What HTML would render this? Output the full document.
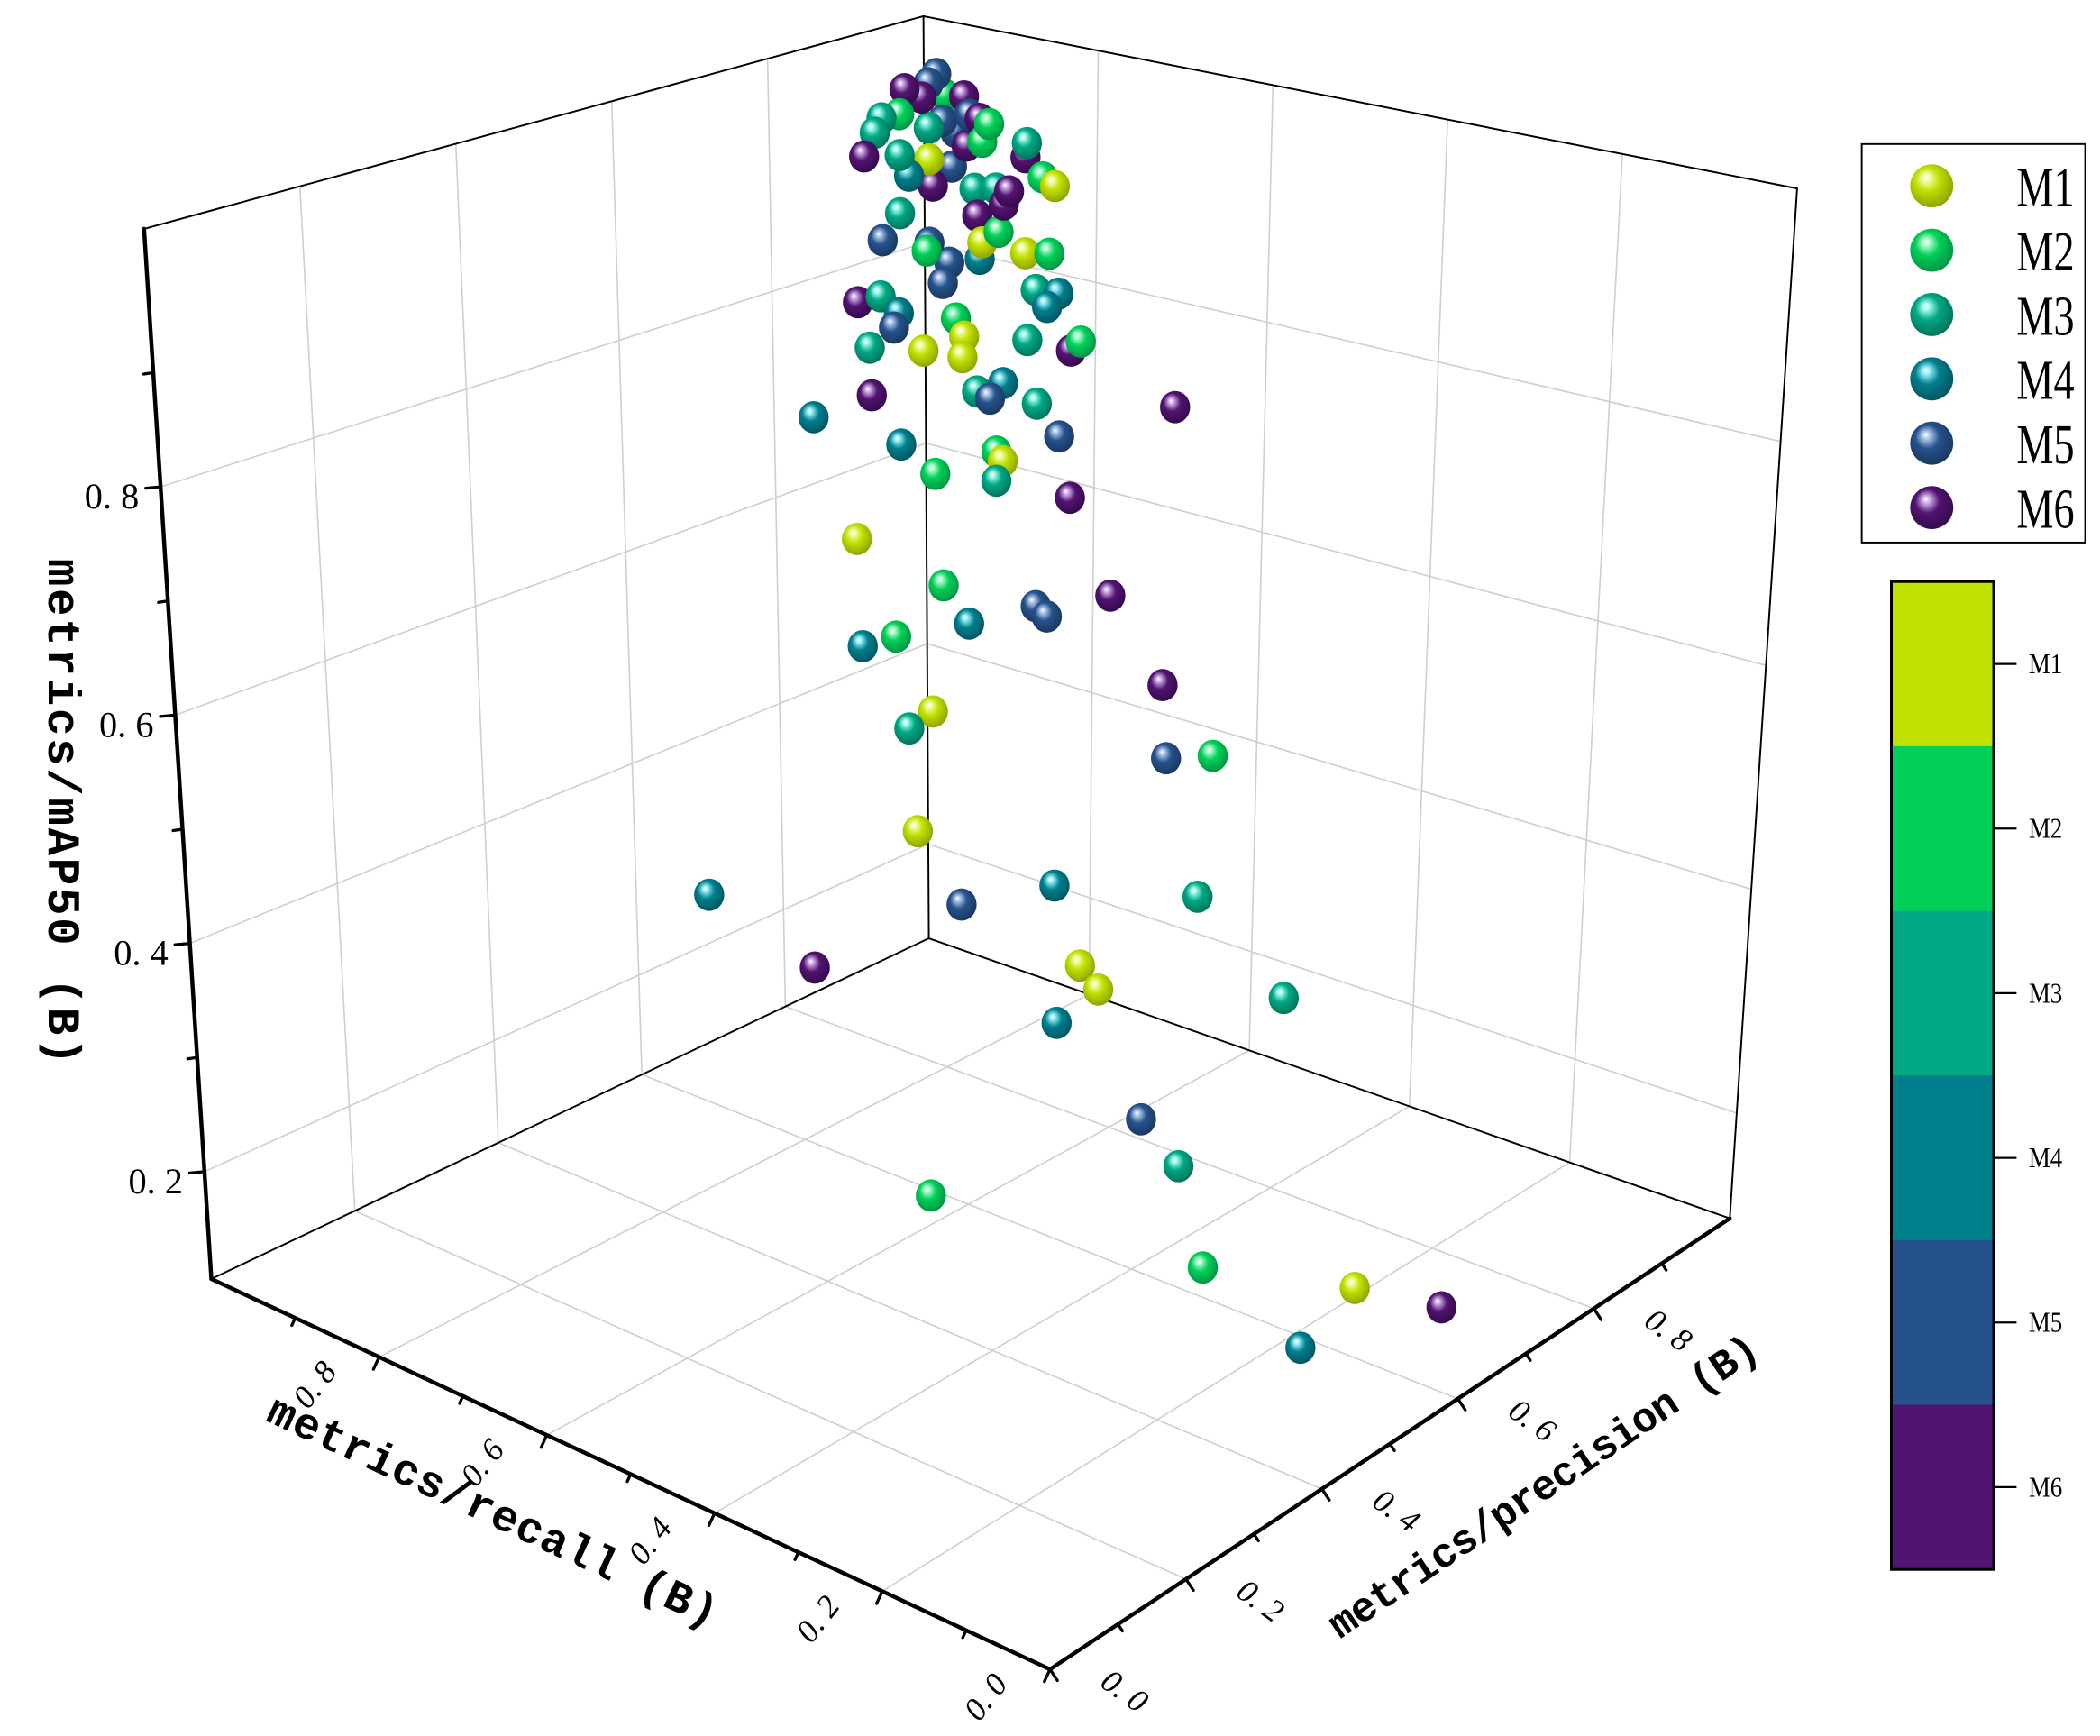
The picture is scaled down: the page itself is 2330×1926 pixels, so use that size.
<!DOCTYPE html>
<html><head><meta charset="utf-8"><style>
html,body{margin:0;padding:0;background:#fff;}
svg{display:block;}
</style></head><body>
<svg id="chart" xmlns="http://www.w3.org/2000/svg" width="2330" height="1926" viewBox="0 0 1560 1289.5">
<defs id="defs"></defs>
<rect x="0" y="0" width="1560" height="1289.5" fill="#fff"/>
<g id="grid"></g>
<g id="frame"></g>
<g id="points"></g>
<g id="axes"></g>
<g id="legend"></g>
<g id="colorbar"></g>
</svg>
<script>
const seriesNames = ['M1','M2','M3','M4','M5','M6'];
const precision = [0.96,0.95,0.919,0.941,0.971,0.98,0.98,0.98,0.889,0.912,0.88,0.9675,0.98,0.98,0.95,0.98,0.98,0.98,0.98,0.866,0.912,0.95,0.98,0.924,0.955,0.98,0.98,0.98,0.98,0.98,0.98,0.98,0.912,0.98,0.889,0.95,0.9465,0.98,0.98,0.976,0.9675,0.98,0.98,0.98,
0.64,0.654,0.665,0.662,0.70,0.705,0.68,0.704,0.749,0.763,0.756,0.647,0.744,0.771,0.777,0.713,0.729,0.721,0.648,0.612,0.836,0.750,0.764,0.666,0.687,0.725,0.729,0.725,0.771,0.638,0.692,0.708,0.750,0.757,0.797,0.662,0.641,0.831,0.685,0.67,0.834,0.864,0.675,0.541,0.703,0.763,0.856,0.608,0.78,0.792,0.914,0.765,0.67,0.706,0.43,0.62,0.676,0.662,0.56];
const recall = [0.95,0.95,0.95,0.95,0.95,0.936,0.943,0.93,0.95,0.95,0.95,0.95,0.907,0.918,0.95,0.946,0.915,0.933,0.8635,0.95,0.95,0.95,0.95,0.95,0.95,0.924,0.899,0.884,0.865,0.845,0.831,0.89,0.95,0.921,0.95,0.95,0.95,0.896,0.915,0.95,0.95,0.918,0.865,0.837,
0.76,0.746,0.735,0.738,0.70,0.695,0.72,0.696,0.651,0.637,0.644,0.753,0.656,0.629,0.623,0.687,0.671,0.679,0.752,0.788,0.564,0.650,0.636,0.734,0.713,0.675,0.671,0.675,0.629,0.762,0.708,0.692,0.650,0.643,0.603,0.738,0.759,0.569,0.715,0.73,0.566,0.536,0.725,0.859,0.697,0.637,0.544,0.792,0.62,0.608,0.486,0.635,0.45,0.434,0.50,0.33,0.191,0.074,0.16];
const mAP50 = [0.986,0.979,0.980,0.967,0.963,0.962,0.950,0.945,0.958,0.957,0.946,0.938,0.940,0.943,0.935,0.925,0.921,0.914,0.929,0.926,0.917,0.904,0.890,0.894,0.877,0.873,0.878,0.878,0.915,0.899,0.893,0.864,0.860,0.847,0.839,0.822,0.815,0.836,0.822,0.796,0.778,0.805,0.821,0.826,
0.876,0.881,0.865,0.852,0.859,0.842,0.830,0.823,0.883,0.879,0.867,0.834,0.837,0.826,0.834,0.791,0.798,0.784,0.790,0.771,0.770,0.778,0.747,0.744,0.716,0.735,0.726,0.708,0.690,0.658,0.613,0.577,0.591,0.581,0.598,0.567,0.559,0.513,0.497,0.482,0.445,0.445,0.387,0.333,0.318,0.332,0.315,0.264,0.257,0.234,0.216,0.205,0.20,0.15,0.20,0.12,0.12,0.14,0.12];
const modelIndex = [4,4,5,5,1,5,2,4,2,1,2,4,1,5,2,4,1,5,2,5,2,0,4,3,5,2,2,5,5,1,0,5,2,5,4,4,1,1,0,4,4,3,0,1,
5,2,3,4,1,0,0,0,2,3,3,2,2,5,1,2,3,4,5,3,5,2,4,3,1,1,0,2,5,0,1,3,4,4,5,1,3,5,0,2,4,1,0,3,4,3,2,5,0,0,2,3,4,2,1,1,0,5,3];
const tickValues = [0.2,0.4,0.6,0.8];
const tickLabels = ['0.2','0.4','0.6','0.8'];
const zMin = 0.106, zMax = 1.026;

const colors = ['#c0e000','#00d058','#00a884','#007f8c','#26528c','#521470'];
const light = ['#f4ffb0','#b8ffd4','#a8fff0','#a0f4ff','#b8cff0','#d8b8f0'];
const dark = ['#8a9e00','#009040','#007058','#005260','#18365c','#32084a'];

const SVGNS='http://www.w3.org/2000/svg';
function mk(tag, attrs, parent){const e=document.createElementNS(SVGNS,tag);for(const k in attrs)e.setAttribute(k,attrs[k]);if(parent)parent.appendChild(e);return e;}

const CB={O:[780,1240],P:[1285,905],R:[157,950],B:[690,697]};
const CT={O:[788,345],P:[1335,140],R:[107,170],B:[686,12]};
function bil(C,p,r,i){return C.O[i]*(1-p)*(1-r)+C.P[i]*p*(1-r)+C.R[i]*(1-p)*r+C.B[i]*p*r;}
function proj(p,r,n){return [bil(CB,p,r,0)*(1-n)+bil(CT,p,r,0)*n, bil(CB,p,r,1)*(1-n)+bil(CT,p,r,1)*n];}
function zn(m){return (m-zMin)/(zMax-zMin);}
function P3(p,r,m){return proj(p,r,zn(m));}

const defs=document.getElementById('defs');
for(let i=0;i<6;i++){
  const g=mk('radialGradient',{id:'sph'+i,cx:'0.45',cy:'0.42',r:'0.62',fx:'0.36',fy:'0.3'},defs);
  mk('stop',{offset:'0','stop-color':'#ffffff'},g);
  mk('stop',{offset:'0.12','stop-color':light[i]},g);
  mk('stop',{offset:'0.45','stop-color':colors[i]},g);
  mk('stop',{offset:'1','stop-color':dark[i]},g);
}

const grid=document.getElementById('grid');
function gl(a,b,name){const l=mk('line',{x1:a[0],y1:a[1],x2:b[0],y2:b[1],stroke:'#cfcfcf','stroke-width':1.1},grid);

}
for(const t of tickValues){
  gl(proj(t,0,0),proj(t,1,0),'floor-grid-precision');
  gl(proj(0,t,0),proj(1,t,0),'floor-grid-recall');
  gl(proj(t,1,0),proj(t,1,1),'left-wall-grid-vertical');
  gl(P3(0,1,t),P3(1,1,t),'left-wall-grid-horizontal');
  gl(proj(1,t,0),proj(1,t,1),'right-wall-grid-vertical');
  gl(P3(1,0,t),P3(1,1,t),'right-wall-grid-horizontal');
}
const frame=document.getElementById('frame');
function fl(a,b,w,name,par){const l=mk('line',{x1:a[0],y1:a[1],x2:b[0],y2:b[1],stroke:'#000','stroke-width':w,'stroke-linecap':'round'},par);

}
fl(proj(0,1,0),proj(1,1,0),1.3,'floor-back-left-edge',frame);
fl(proj(1,1,0),proj(1,0,0),1.3,'floor-back-right-edge',frame);
fl(proj(1,1,0),proj(1,1,1),1.3,'back-vertical-edge',frame);
fl(proj(1,0,0),proj(1,0,1),1.3,'right-vertical-edge',frame);
fl(proj(0,1,1),proj(1,1,1),1.3,'top-left-edge',frame);
fl(proj(1,1,1),proj(1,0,1),1.3,'top-right-edge',frame);

const pts=document.getElementById('points');
const order=precision.map((v,i)=>i).sort((a,b)=>(precision[b]+recall[b])-(precision[a]+recall[a]));
for(const i of order){
  const s=P3(precision[i],recall[i],mAP50[i]);
  const c=mk('ellipse',{cx:s[0].toFixed(1),cy:s[1].toFixed(1),rx:11.2,ry:12,fill:'url(#sph'+modelIndex[i]+')'},pts);
  
  
}

const axes=document.getElementById('axes');
fl(proj(0,0,0),proj(1,0,0),3,'precision-axis-line',axes);
fl(proj(0,0,0),proj(0,1,0),3,'recall-axis-line',axes);
fl(proj(0,1,0),proj(0,1,1),3,'map50-axis-line',axes);
function txt(x,y,str,attrs,name){const t=mk('text',Object.assign({x:x,y:y},attrs),axes);t.textContent=str;

return t;}
const serif='"Liberation Serif", serif';
for(let k=0;k<=9;k++){
  const v=k/10, major=(k%2===0), L=major?10:6;
  let a=proj(0,v,0);
  fl(a,[a[0]-0.42*L,a[1]+0.91*L],2.2,'recall-tick',axes);
  a=proj(v,0,0);
  fl(a,[a[0]+0.55*L,a[1]+0.83*L],2.2,'precision-tick',axes);
  if(major && k<=8){
    const lab=v.toFixed(1).replace('.','. ');
    const ra=proj(0,v,0);
    txt(ra[0]-46,ra[1]+22,lab,{'font-family':serif,'font-style':'italic','font-size':24,'text-anchor':'middle','transform':'rotate(-52 '+(ra[0]-46)+' '+(ra[1]+22)+')','dominant-baseline':'middle'},'recall-tick-label');
    const pa=proj(v,0,0);
    txt(pa[0]+54,pa[1]+18,lab,{'font-family':serif,'font-style':'italic','font-size':24,'text-anchor':'middle','transform':'rotate(36 '+(pa[0]+54)+' '+(pa[1]+18)+')','dominant-baseline':'middle'},'precision-tick-label');
  }
}
for(let k=2;k<=9;k++){
  const v=k/10; const a=P3(0,1,v); const L=(k%2===0)?11:7;
  fl(a,[a[0]-L,a[1]+1],2.2,'map50-tick',axes);
}
tickValues.forEach((v,i)=>{const a=P3(0,1,v);
  txt(a[0]-16,a[1]+16,tickLabels[i].replace('.','. '),{'font-family':serif,'font-size':27,'text-anchor':'end'},'map50-tick-label');});
const mono='"Liberation Mono", monospace';
txt(0,0,'metrics/mAP50 (B)',{'font-family':mono,'font-weight':'bold','font-size':34,'text-anchor':'middle','textLength':376,'lengthAdjust':'spacing','transform':'translate(36,603) rotate(90)'},'map50-axis-title');
txt(0,0,'metrics/recall (B)',{'font-family':mono,'font-weight':'bold','font-size':33,'text-anchor':'middle','textLength':365,'lengthAdjust':'spacing','transform':'translate(362,1132) rotate(25)'},'recall-axis-title');
txt(0,0,'metrics/precision (B)',{'font-family':mono,'font-weight':'bold','font-size':31,'text-anchor':'middle','textLength':378,'lengthAdjust':'spacing','transform':'translate(1152,1112) rotate(-34)'},'precision-axis-title');

const lg=document.getElementById('legend');
const lb=mk('rect',{x:1383,y:107,width:166,height:296,fill:'#fff',stroke:'#000','stroke-width':1.3},lg);


seriesNames.forEach((nm,i)=>{
  const y=138+i*47.8;
  const c=mk('circle',{cx:1435,cy:y,r:16,fill:'url(#sph'+i+')'},lg);
  
  
  const t=mk('text',{x:1498,y:y+15,'font-family':serif,'font-size':42,'textLength':43,'lengthAdjust':'spacingAndGlyphs'},lg);
  t.textContent=nm;
  
  
});

const cb=document.getElementById('colorbar');
const cbTop=432, bandH=122.3, cbX=1405, cbW=76;
seriesNames.forEach((nm,i)=>{
  const r=mk('rect',{x:cbX,y:cbTop+i*bandH,width:cbW,height:bandH+0.5,fill:colors[i]},cb);
  
  
  const yc=cbTop+i*bandH+bandH*0.5;
  const tk=mk('line',{x1:cbX+cbW,y1:yc,x2:cbX+cbW+17,y2:yc,stroke:'#000','stroke-width':1.5},cb);
  
  
  const t=mk('text',{x:cbX+cbW+26,y:yc+7,'font-family':serif,'font-size':21,'textLength':25,'lengthAdjust':'spacingAndGlyphs'},cb);
  t.textContent=nm;
  
  
});
const cbo=mk('rect',{x:cbX,y:cbTop,width:cbW,height:bandH*6,fill:'none',stroke:'#000','stroke-width':2},cb);


</script>
</body></html>
